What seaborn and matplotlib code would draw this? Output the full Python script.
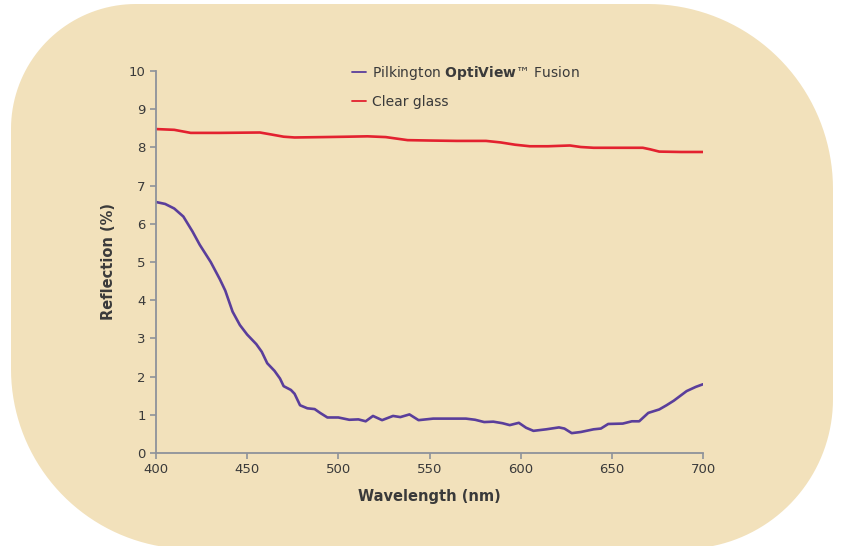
import matplotlib
matplotlib.use("Agg")
import matplotlib.pyplot as plt
from matplotlib.patches import Polygon
from matplotlib.transforms import IdentityTransform
import seaborn as sns
import pandas as pd
import numpy as np

# wavelength (nm) / reflection (%)
optiview_nm = [400, 405, 410, 415, 420, 424, 430, 435, 438, 442, 446, 450, 455,
               458, 461, 465, 468, 470, 474, 476, 479, 483, 487, 490, 494, 500,
               506, 511, 515, 519, 524, 530, 534, 539, 544, 552, 560, 570, 575,
               580, 585, 590, 594, 599, 603, 607, 614, 621, 624, 628, 633, 640,
               644, 648, 656, 661, 665, 670, 676, 680, 684, 691, 696, 700]
optiview_refl = [6.57, 6.52, 6.40, 6.19, 5.80, 5.45, 5.00, 4.55, 4.25, 3.70, 3.35,
                 3.10, 2.85, 2.65, 2.35, 2.15, 1.95, 1.75, 1.65, 1.55, 1.25, 1.17,
                 1.15, 1.05, 0.93, 0.93, 0.87, 0.88, 0.83, 0.97, 0.86, 0.97, 0.94,
                 1.01, 0.86, 0.90, 0.90, 0.90, 0.87, 0.81, 0.82, 0.78, 0.73, 0.79,
                 0.66, 0.58, 0.62, 0.67, 0.64, 0.52, 0.55, 0.62, 0.64, 0.76, 0.77,
                 0.83, 0.83, 1.05, 1.14, 1.25, 1.37, 1.62, 1.73, 1.80]

clear_nm = [400, 410, 419, 435, 457, 463, 470, 476, 492, 505, 516, 526, 532, 538,
            550, 565, 581, 589, 597, 605, 615, 627, 633, 640, 655, 667, 671, 676,
            688, 700]
clear_refl = [8.48, 8.46, 8.38, 8.38, 8.39, 8.34, 8.28, 8.26, 8.27, 8.28, 8.29,
              8.27, 8.23, 8.19, 8.18, 8.17, 8.17, 8.13, 8.07, 8.03, 8.03, 8.05,
              8.01, 7.99, 7.99, 7.99, 7.95, 7.89, 7.88, 7.88]

optiview_name = "Pilkington $\\mathbf{OptiView}$™ Fusion"
clear_name = "Clear glass"

df = pd.concat([
    pd.DataFrame({"nm": optiview_nm, "refl": optiview_refl, "glass": optiview_name}),
    pd.DataFrame({"nm": clear_nm, "refl": clear_refl, "glass": clear_name}),
])

sns.set_style("ticks")
plt.rcParams["font.family"] = ["DejaVu Sans"]
text_col = "#3a3a3a"
axis_col = "#8e929a"
beige = "#f2e1bb"

fig = plt.figure(figsize=(8.44, 5.46), dpi=100)
fig.patch.set_facecolor("white")

# beige panel, each corner rounded differently (display pixels, y up)
corners = [((648, 357), 185, 0), ((136, 417), 125, 90),
           ((191, 177), 180, 180), ((683, 147), 150, 270)]
pts = []
for (cx, cy), r, a0 in corners:
    t = np.radians(np.linspace(a0, a0 + 90, 40))
    pts.append(np.column_stack([cx + r * np.cos(t), cy + r * np.sin(t)]))
panel = Polygon(np.vstack(pts), closed=True, transform=IdentityTransform(),
                facecolor=beige, edgecolor="none", zorder=-5)
fig.patches.append(panel)

ax = fig.add_axes([156 / 844, 1 - 453 / 546, (703 - 156) / 844, (453 - 71) / 546])
ax.set_facecolor("none")

sns.lineplot(data=df, x="nm", y="refl", hue="glass", sort=False,
             palette={optiview_name: "#5a3e9b", clear_name: "#e3212f"},
             linewidth=1.9, ax=ax)

ax.set_xlim(400, 700)
ax.set_ylim(0, 10)
ax.set_xticks(range(400, 701, 50))
ax.set_yticks(range(0, 11))
ax.tick_params(colors=axis_col, labelcolor=text_col, labelsize=9.5, length=4, width=1.2)
sns.despine(ax=ax)
for s in ("left", "bottom"):
    ax.spines[s].set_color(axis_col)
    ax.spines[s].set_linewidth(1.3)

ax.set_xlabel("Wavelength (nm)", fontsize=10.5, fontweight="bold", color=text_col, labelpad=9)
ax.set_ylabel("Reflection (%)", fontsize=10.5, fontweight="bold", color=text_col, labelpad=9)

leg = ax.legend(loc="upper left", bbox_to_anchor=(352 / 844, 1 - 64 / 546),
                bbox_transform=fig.transFigure, frameon=False, fontsize=10,
                handlelength=1.0, handletextpad=0.45, labelspacing=0.95, borderpad=0,
                borderaxespad=0)
for t in leg.get_texts():
    t.set_color(text_col)
for h in leg.get_lines():
    h.set_linewidth(1.3)

fig.savefig("out.png", dpi=100, facecolor="white")
